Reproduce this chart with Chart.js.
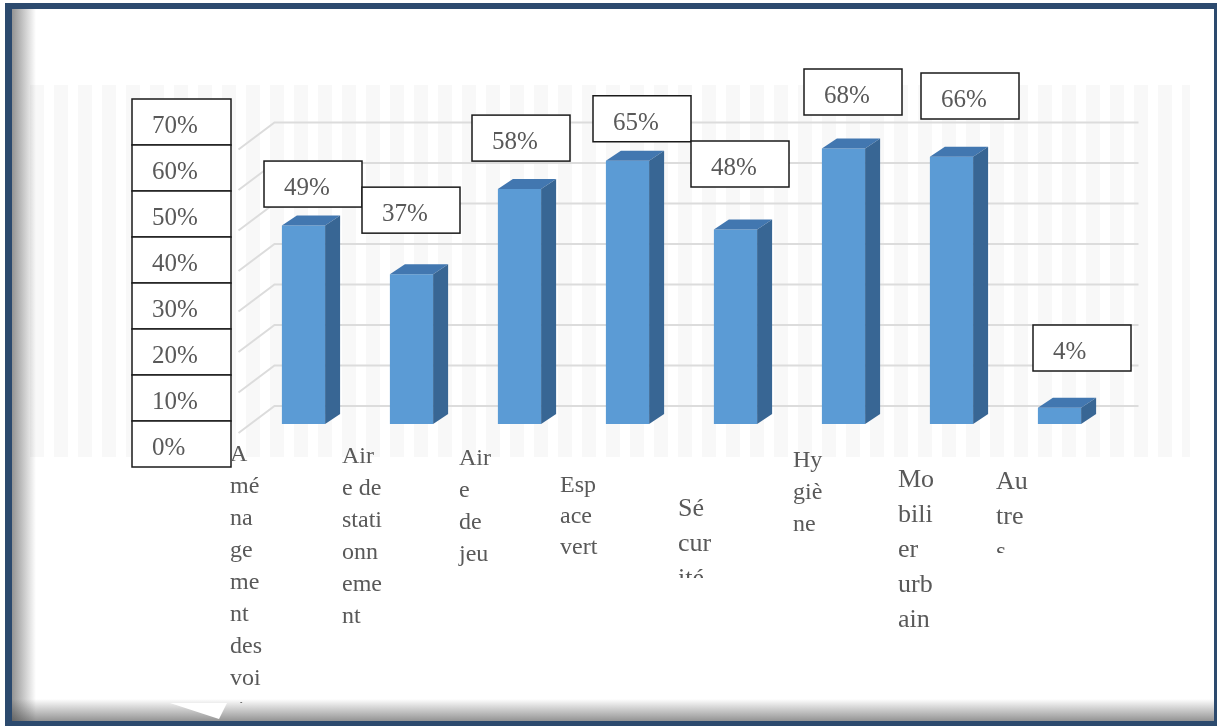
<!DOCTYPE html>
<html lang="fr">
<head>
<meta charset="utf-8">
<title>Attentes des habitants</title>
<script src="https://cdn.jsdelivr.net/npm/chart.js@4/dist/chart.umd.min.js"></script>
<style>
  html, body { margin: 0; padding: 0; width: 1217px; height: 727px; overflow: hidden; background: #fff; }
  #frame {
    position: absolute; left: 5px; top: 3px; width: 1202px; height: 712px;
    border-style: solid; border-color: #2c4a6e; border-width: 6px 3px 5px 7px;
  }
  #band {
    position: absolute; left: 30px; top: 85px; width: 1160px; height: 372px;
    background: repeating-linear-gradient(90deg, #f8f8f8 0 14px, #ffffff 14px 24px);
  }
  #shadeLeft {
    position: absolute; left: 12px; top: 9px; width: 24px; height: 712px;
    background: linear-gradient(90deg, rgba(60,60,60,.55), rgba(255,255,255,0));
  }
  #shadeBottom {
    position: absolute; left: 12px; top: 699px; width: 1202px; height: 22px;
    background: linear-gradient(180deg, rgba(255,255,255,0), rgba(60,60,60,.55));
  }
  #chart { position: absolute; left: 0; top: 0; }
</style>
</head>
<body>
<div id="frame"></div>
<div id="band"></div>
<div id="shadeLeft"></div>
<div id="shadeBottom"></div>
<canvas id="chart" width="1217" height="727"></canvas>
<script>
// Categories, their wrapped label lines, and the share of answers (%)
const categories = [
  'Aménagement des voiries', 'Aire de stationnement', 'Aire de jeu', 'Espace vert',
  'Sécurité', 'Hygiène', 'Mobilier urbain', 'Autres'
];
const categoryLines = [
  ['A', 'mé', 'na', 'ge', 'me', 'nt', 'des', 'voi', 'rie', 's'],
  ['Air', 'e de', 'stati', 'onn', 'eme', 'nt'],
  ['Air', 'e', 'de', 'jeu'],
  ['Esp', 'ace', 'vert'],
  ['Sé', 'cur', 'ité'],
  ['Hy', 'giè', 'ne'],
  ['Mo', 'bili', 'er', 'urb', 'ain'],
  ['Au', 'tre', 's']
];
const shares = [49, 37, 58, 65, 48, 68, 66, 4];
const yTicks = [0, 10, 20, 30, 40, 50, 60, 70];
const yTickLabels = yTicks.map(v => v + '%');

// Layout of the text boxes (offsets from each bar / label column geometry)
const valueBoxOffsets = [
  [-39.5, -64.5], [-49.5, -87], [-47.5, -74], [-34.5, -65],
  [-44.5, -88.6], [-39.5, -79.6], [-30.5, -83.7], [-26.5, -82.8]
];
const categoryLabelLayout = [
  { dx: -73.5, base: 461, size: 24, lead: 32, clip: 703 },
  { dx: -69.5, base: 463, size: 24, lead: 32 },
  { dx: -60.5, base: 465, size: 24, lead: 32 },
  { dx: -67.5, base: 492, size: 24, lead: 31 },
  { dx: -57.5, base: 516, size: 26, lead: 35, clip: 578 },
  { dx: -50.5, base: 467, size: 24, lead: 32 },
  { dx: -53.5, base: 487, size: 26, lead: 35 },
  { dx: -63.5, base: 489, size: 26, lead: 35, clip: 553 }
];

const SERIF = '"Liberation Serif", "Times New Roman", serif';
const TEXT = '#595959';
const DEPTH_X = 15, DEPTH_Y = -10;          // bar extrusion
const WALL_X = 25, WALL_Y = -18;            // back wall offset
const FLOOR_X = -11, FLOOR_Y = 9;           // front edge of the side wall

function textBox(ctx, left, top, w, h, text, size) {
  ctx.fillStyle = '#ffffff';
  ctx.fillRect(left, top, w, h);
  ctx.strokeStyle = '#1a1a1a';
  ctx.lineWidth = 1.5;
  ctx.strokeRect(left, top, w, h);
  ctx.fillStyle = TEXT;
  ctx.font = size + 'px ' + SERIF;
  ctx.textAlign = 'left';
  ctx.textBaseline = 'alphabetic';
  ctx.fillText(text, left + 20, top + 34);
}

const wallPlugin = {
  id: 'wall',
  beforeDatasetsDraw(chart) {
    const { ctx, chartArea: a, scales: { y } } = chart;
    ctx.save();
    ctx.strokeStyle = '#dcdcdc';
    ctx.lineWidth = 2;
    yTicks.forEach(v => {
      const py = y.getPixelForValue(v);
      ctx.beginPath();
      ctx.moveTo(a.left + FLOOR_X, py + FLOOR_Y);
      ctx.lineTo(a.left + WALL_X, py + WALL_Y);
      ctx.lineTo(a.right + WALL_X, py + WALL_Y);
      ctx.stroke();
    });
    ctx.restore();
  }
};

const extrudePlugin = {
  id: 'extrude',
  afterDatasetsDraw(chart) {
    const { ctx } = chart;
    const meta = chart.getDatasetMeta(0);
    ctx.save();
    meta.data.forEach(bar => {
      const l = bar.x - bar.width / 2, r = bar.x + bar.width / 2;
      const t = bar.y, b = bar.base;
      // top face
      ctx.fillStyle = '#4277b0';
      ctx.beginPath();
      ctx.moveTo(l, t); ctx.lineTo(r, t);
      ctx.lineTo(r + DEPTH_X, t + DEPTH_Y); ctx.lineTo(l + DEPTH_X, t + DEPTH_Y);
      ctx.closePath(); ctx.fill();
      // side face
      ctx.fillStyle = '#386694';
      ctx.beginPath();
      ctx.moveTo(r, t); ctx.lineTo(r + DEPTH_X, t + DEPTH_Y);
      ctx.lineTo(r + DEPTH_X, b + DEPTH_Y); ctx.lineTo(r, b);
      ctx.closePath(); ctx.fill();
    });
    ctx.restore();
  }
};

const labelPlugin = {
  id: 'labels',
  afterDraw(chart) {
    const { ctx, scales: { x } } = chart;
    const meta = chart.getDatasetMeta(0);
    ctx.save();

    // y tick boxes, stacked from 70% down to 0%
    const colLeft = 132, colTop = 99, boxW = 99, boxH = 46;
    yTicks.slice().reverse().forEach((v, k) => {
      textBox(ctx, colLeft, colTop + k * boxH, boxW, boxH, yTickLabels[yTicks.indexOf(v)], 25);
    });

    // value boxes above the bars
    meta.data.forEach((bar, i) => {
      const [dx, dy] = valueBoxOffsets[i];
      textBox(ctx, bar.x + dx, bar.y + dy, 98, 46, shares[i] + '%', 25);
    });

    // wrapped category labels
    categoryLines.forEach((lines, i) => {
      const L = categoryLabelLayout[i];
      const left = x.getPixelForValue(i) + L.dx;
      ctx.save();
      if (L.clip) {
        ctx.beginPath();
        ctx.rect(left - 5, L.base - 40, 80, L.clip - (L.base - 40));
        ctx.clip();
      }
      ctx.fillStyle = TEXT;
      ctx.font = L.size + 'px ' + SERIF;
      ctx.textAlign = 'left';
      ctx.textBaseline = 'alphabetic';
      lines.forEach((s, k) => ctx.fillText(s, left, L.base + k * L.lead));
      ctx.restore();
    });

    // small white pointer at the bottom edge
    ctx.fillStyle = '#ffffff';
    ctx.beginPath();
    ctx.moveTo(170, 703); ctx.lineTo(219, 719); ctx.lineTo(227, 703);
    ctx.closePath(); ctx.fill();

    ctx.restore();
  }
};

function draw() {
  new Chart(document.getElementById('chart'), {
    type: 'bar',
    data: {
      labels: categories,
      datasets: [{
        data: shares,
        backgroundColor: '#5b9bd5',
        borderWidth: 0,
        barPercentage: 0.4,
        categoryPercentage: 1
      }]
    },
    options: {
      responsive: false,
      devicePixelRatio: 1,
      animation: false,
      layout: { padding: { left: 249.5, right: 103.5, top: 140.5, bottom: 303 } },
      plugins: { legend: { display: false }, tooltip: { enabled: false } },
      scales: {
        x: { display: false, offset: true },
        y: { display: false, min: 0, max: 70 }
      }
    },
    plugins: [wallPlugin, extrudePlugin, labelPlugin]
  });
}

if (document.fonts && document.fonts.load) {
  Promise.all([
    document.fonts.load('25px "Liberation Serif"'),
    document.fonts.load('26px "Liberation Serif"')
  ]).then(draw, draw);
} else {
  draw();
}
</script>
</body>
</html>
